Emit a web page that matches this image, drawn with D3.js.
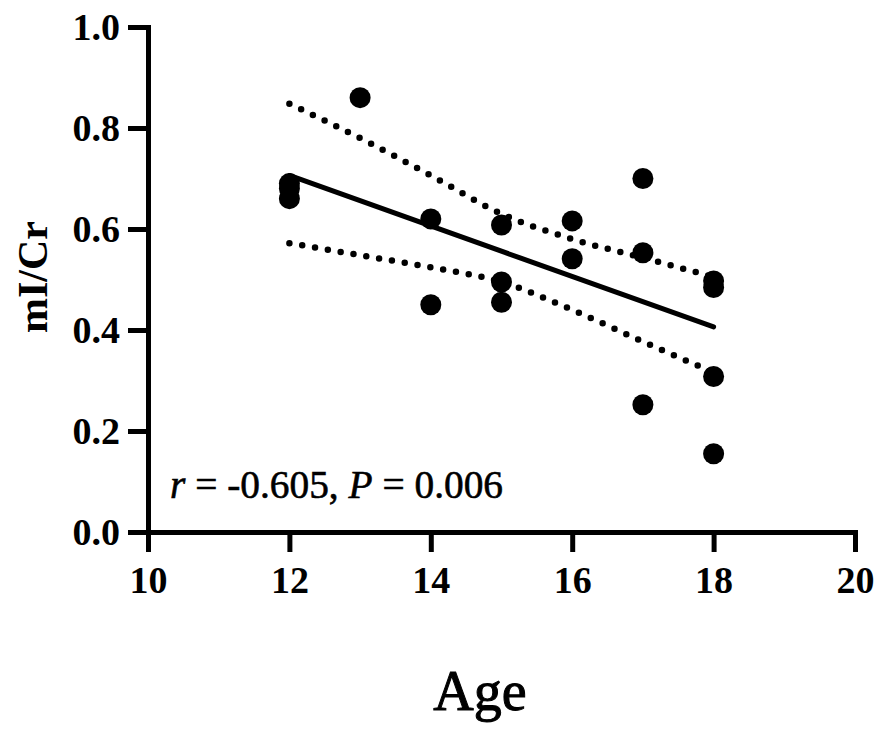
<!DOCTYPE html>
<html>
<head>
<meta charset="utf-8">
<script src="https://cdn.jsdelivr.net/npm/d3@7"></script>
<style>
  body { margin: 0; background: #fff; }
  svg { display: block; }
  .axis path, .axis line { stroke: #000; stroke-width: 5; }
  .axis path { stroke-linecap: square; }
  .axis text { font-family: "Liberation Serif", serif; font-weight: bold; font-size: 38px; fill: #000; }
</style>
</head>
<body>
<script>
// Datos
const ages = [12, 12, 12, 13, 14, 14, 15, 15, 15, 16, 16, 17, 17, 17, 18, 18, 18, 18];
const mlcr = [0.69, 0.68, 0.66, 0.86, 0.62, 0.45, 0.608, 0.495, 0.455, 0.616, 0.541, 0.70, 0.553, 0.252, 0.497, 0.484, 0.308, 0.155];

// Recta de regresion (extremos)
const fitAges = [12, 18];
const fitValues = [0.706, 0.406];

// Bandas de confianza 95%
const bandAges = [12, 13, 14, 15, 16, 17, 18];
const upperBand = [0.848, 0.78, 0.706, 0.63, 0.58, 0.543, 0.505];
const lowerBand = [0.572, 0.548, 0.524, 0.495, 0.44, 0.377, 0.316];

const xTicks = [10, 12, 14, 16, 18, 20];
const yTicks = [0, 0.2, 0.4, 0.6, 0.8, 1.0];

const width = 886, height = 734;

const svg = d3.select("body").append("svg")
  .attr("width", width)
  .attr("height", height);

// Escalas
const x = d3.scaleLinear().domain([10, 20]).range([148, 855]);
const y = d3.scaleLinear().domain([0, 1]).range([532, 27]);

// Eje Y
svg.append("g")
  .attr("class", "axis")
  .attr("transform", `translate(${x(10)},0)`)
  .call(d3.axisLeft(y).tickValues(yTicks).tickFormat(d3.format(".1f"))
    .tickSize(20).tickSizeOuter(0).tickPadding(8));

// Eje X
svg.append("g")
  .attr("class", "axis")
  .attr("transform", `translate(0,${y(0)})`)
  .call(d3.axisBottom(x).tickValues(xTicks).tickFormat(d3.format("d"))
    .tickSize(20).tickSizeOuter(0).tickPadding(14));

// Bandas punteadas
const band = d3.line()
  .x((d, i) => x(bandAges[i]))
  .y(d => y(d))
  .curve(d3.curveMonotoneX);

[upperBand, lowerBand].forEach(b => {
  svg.append("path")
    .datum(b)
    .attr("d", band)
    .attr("fill", "none")
    .attr("stroke", "#000")
    .attr("stroke-width", 6.5)
    .attr("stroke-linecap", "round")
    .attr("stroke-dasharray", "0 13");
});

// Recta de regresion
svg.append("path")
  .datum(fitValues)
  .attr("d", d3.line().x((d, i) => x(fitAges[i])).y(d => y(d)))
  .attr("fill", "none")
  .attr("stroke", "#000")
  .attr("stroke-width", 5)
  .attr("stroke-linecap", "round");

// Puntos
svg.selectAll(".dot")
  .data(mlcr)
  .enter().append("circle")
  .attr("class", "dot")
  .attr("cx", (d, i) => x(ages[i]))
  .attr("cy", d => y(d))
  .attr("r", 10.5)
  .attr("fill", "#000");

// Anotacion
const ann = svg.append("text")
  .attr("x", 170)
  .attr("y", 498)
  .attr("textLength", 333)
  .attr("lengthAdjust", "spacingAndGlyphs")
  .style("font-family", "Liberation Serif, serif")
  .style("font-size", "40px")
  .style("stroke", "#000")
  .style("stroke-width", 0.6);
ann.append("tspan").style("font-style", "italic").text("r");
ann.append("tspan").text(" = -0.605, ");
ann.append("tspan").style("font-style", "italic").text("P");
ann.append("tspan").text(" = 0.006");

// Titulos de ejes
svg.append("text")
  .attr("x", 480)
  .attr("y", 710)
  .attr("text-anchor", "middle")
  .style("font-family", "Liberation Serif, serif")
  .style("font-size", "56px")
  .style("stroke", "#000")
  .style("stroke-width", 1)
  .text("Age");

svg.append("text")
  .attr("transform", "translate(47,277) rotate(-90)")
  .attr("text-anchor", "middle")
  .style("font-family", "Liberation Serif, serif")
  .style("font-weight", "bold")
  .style("font-size", "42px")
  .text("mI/Cr");
</script>
</body>
</html>
